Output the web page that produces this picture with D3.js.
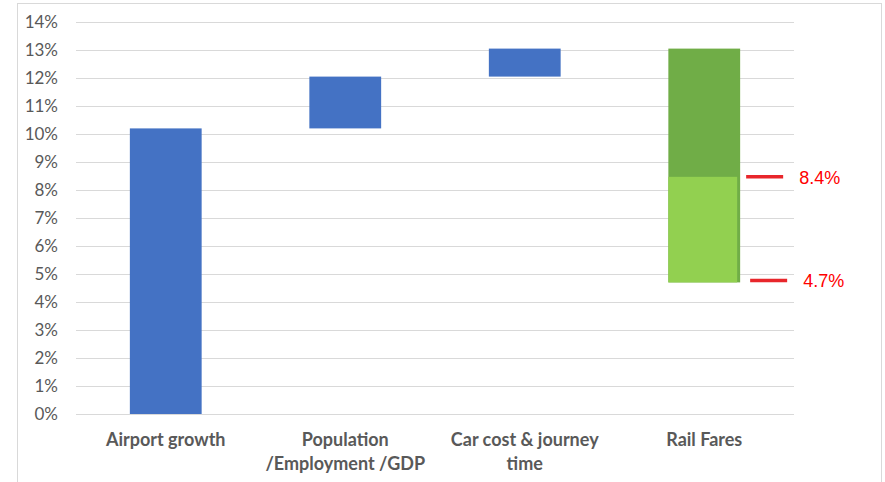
<!DOCTYPE html>
<html>
<head>
<meta charset="utf-8">
<script src="https://cdn.jsdelivr.net/npm/d3@7"></script>
<style>
  body { margin: 0; background: #fff; }
  svg text { font-family: Lato, "Open Sans", sans-serif; }
</style>
</head>
<body>
<svg width="885" height="482"></svg>
<script>
// waterfall pieces: each bar runs from base to top (in %)
const categories = ["Airport growth", "Population /Employment /GDP", "Car cost & journey time", "Rail Fares"];
const labelLines = [["Airport growth"], ["Population", "/Employment /GDP"], ["Car cost & journey", "time"], ["Rail Fares"]];
const barBase = [0, 10.2, 12.05, 4.7];
const barTop = [10.2, 12.05, 13.05, 13.05];
const barColor = ["#4472c4", "#4472c4", "#4472c4", "#70ad47"];
// lighter inner band on the rail fares bar
const railInner = [4.7, 8.47];
const markerValues = [8.47, 4.77];
const markerLabels = ["8.4%", "4.7%"];
const yTicks = d3.range(0, 15, 1);

const svg = d3.select("svg");

// chart frame
svg.append("rect")
   .attr("x", 17.5).attr("y", 3.5)
   .attr("width", 864).attr("height", 490)
   .attr("fill", "none").attr("stroke", "#d9d9d9");

const plotLeft = 76, plotRight = 794, plotTop = 22, plotBottom = 414;

const xScale = d3.scaleBand().domain(categories).range([plotLeft, plotRight])
   .paddingInner(0.6).paddingOuter(0.3);
const yScale = d3.scaleLinear().domain([0, 14]).range([plotBottom, plotTop]);

// gridlines
svg.append("g").selectAll("line")
   .data(yTicks)
   .enter().append("line")
   .attr("x1", plotLeft).attr("x2", plotRight)
   .attr("y1", d => yScale(d) + 0.5).attr("y2", d => yScale(d) + 0.5)
   .attr("stroke", "#d9d9d9").attr("stroke-width", 1);

// y axis labels
const yAxis = svg.append("g")
   .attr("transform", "translate(" + (plotLeft - 10) + ",0)")
   .call(d3.axisLeft(yScale).tickValues(yTicks).tickFormat(d => d + "%").tickSize(0));
yAxis.select(".domain").remove();
yAxis.selectAll("text")
   .attr("x", -8)
   .attr("fill", "#595959")
   .style("font-size", "17px");

// bars
svg.append("g").selectAll("rect")
   .data(categories)
   .enter().append("rect")
   .attr("x", d => xScale(d))
   .attr("y", (d, i) => yScale(barTop[i]))
   .attr("width", xScale.bandwidth())
   .attr("height", (d, i) => yScale(barBase[i]) - yScale(barTop[i]))
   .attr("fill", (d, i) => barColor[i]);

svg.append("rect")
   .attr("x", xScale("Rail Fares"))
   .attr("y", yScale(railInner[1]))
   .attr("width", xScale.bandwidth() - 3)
   .attr("height", yScale(railInner[0]) - yScale(railInner[1]))
   .attr("fill", "#92d050");

// red markers
const mx = xScale("Rail Fares") + xScale.bandwidth();
markerValues.forEach((v, i) => {
   svg.append("line")
      .attr("x1", mx + 6 + i * 4).attr("x2", mx + 43 + i * 4)
      .attr("y1", yScale(v)).attr("y2", yScale(v))
      .attr("stroke", "#e8262b").attr("stroke-width", 3.5);
   svg.append("text")
      .attr("x", mx + 59 + i * 4)
      .attr("y", yScale(v) + 7)
      .attr("fill", "#ff0000")
      .style("font-family", "'Liberation Sans', Arial, sans-serif")
      .style("font-size", "18px")
      .text(markerLabels[i]);
});

// category labels
const cat = svg.append("g").selectAll("text")
   .data(categories)
   .enter().append("text")
   .attr("x", d => xScale(d) + xScale.bandwidth() / 2)
   .attr("y", 446)
   .attr("text-anchor", "middle")
   .attr("fill", "#595959")
   .style("font-size", "18px")
   .style("font-weight", "bold");
cat.each(function (d, i) {
   d3.select(this).selectAll("tspan")
      .data(labelLines[i])
      .enter().append("tspan")
      .attr("x", xScale(d) + xScale.bandwidth() / 2)
      .attr("dy", (t, j) => j === 0 ? 0 : 24)
      .text(t => t);
});
</script>
</body>
</html>
